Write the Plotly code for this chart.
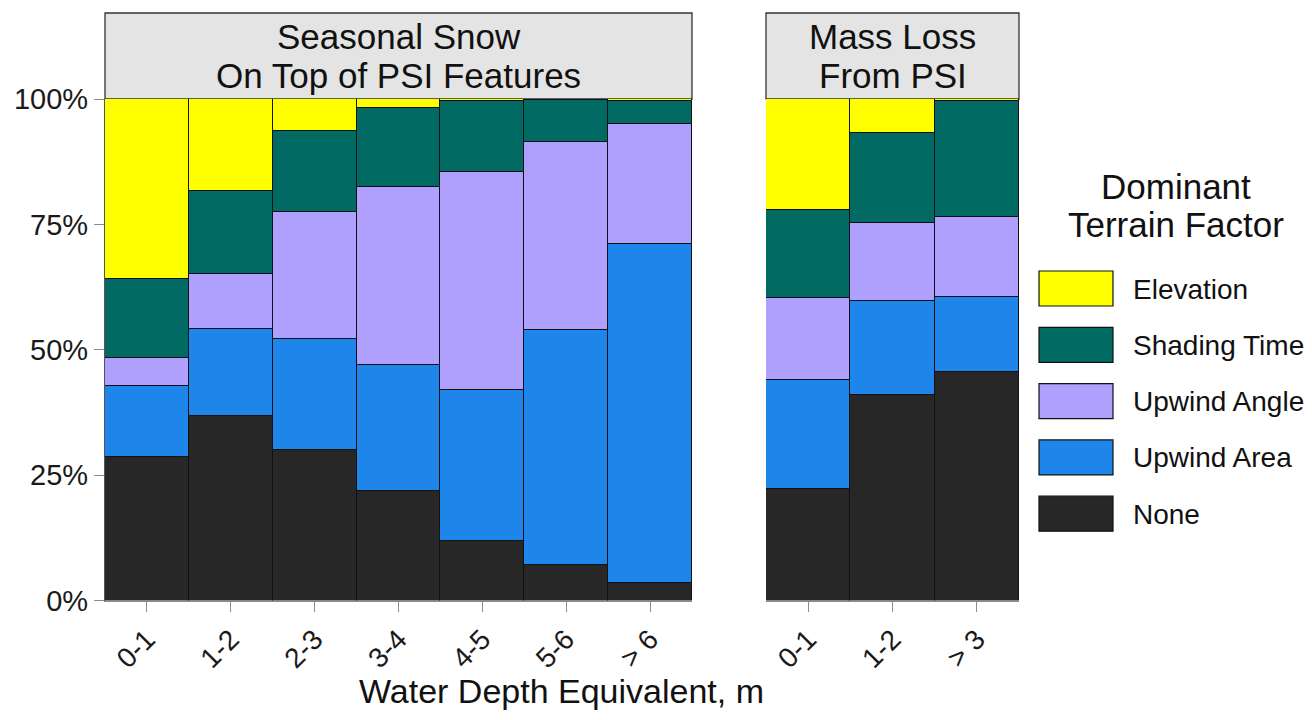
import plotly.graph_objects as go

# ---------------- data ----------------
left_cats = ["0-1", "1-2", "2-3", "3-4", "4-5", "5-6", "> 6"]
right_cats = ["0-1", "1-2", "> 3"]
factors = ["None", "Upwind Area", "Upwind Angle", "Shading Time", "Elevation"]
colors = {"None": "#272727", "Upwind Area": "#1E86EB", "Upwind Angle": "#AFA0FE",
          "Shading Time": "#006A63", "Elevation": "#FFFF00"}

left_none = [28.6, 36.7, 30.1, 21.8, 11.8, 7.1, 3.5]
left_area = [14.2, 17.5, 22.1, 25.2, 30.2, 46.8, 67.5]
left_angle = [5.6, 11.0, 25.2, 35.4, 43.4, 37.5, 24.1]
left_shade = [15.7, 16.4, 16.3, 15.9, 14.3, 8.4, 4.6]
left_elev = [35.9, 18.4, 6.3, 1.7, 0.3, 0.2, 0.3]

right_none = [22.3, 40.9, 45.6]
right_area = [21.7, 18.8, 14.9]
right_angle = [16.3, 15.6, 15.9]
right_shade = [17.6, 18.0, 23.3]
right_elev = [22.1, 6.7, 0.3]

y_ticks = [0, 25, 50, 75, 100]
y_tick_text = ["0%", "25%", "50%", "75%", "100%"]
legend_title = ["Dominant", "Terrain Factor"]
legend_order = ["Elevation", "Shading Time", "Upwind Angle", "Upwind Area", "None"]

left_vals = {"None": left_none, "Upwind Area": left_area, "Upwind Angle": left_angle,
             "Shading Time": left_shade, "Elevation": left_elev}
right_vals = {"None": right_none, "Upwind Area": right_area, "Upwind Angle": right_angle,
              "Shading Time": right_shade, "Elevation": right_elev}

# page has an 8px body margin; size the figure to fit inside the window
OFF = 8
W, H = 1312 - 2 * OFF, 720 - 2 * OFF
FONT = "Liberation Sans, Arial, sans-serif"


def px(x):
    return (x - OFF) / W


def py(y):
    return 1 - (y - OFF) / H


fig = go.Figure()
for f in factors:
    fig.add_trace(go.Bar(x=left_cats, y=left_vals[f], name=f, marker_color=colors[f],
                         marker_line=dict(color="#111111", width=1.2),
                         xaxis="x", yaxis="y", showlegend=False))
    fig.add_trace(go.Bar(x=right_cats, y=right_vals[f], name=f, marker_color=colors[f],
                         marker_line=dict(color="#111111", width=1.2),
                         xaxis="x2", yaxis="y2", showlegend=False))

L0, L1, R0, R1 = 105, 692, 766, 1019
Y0, Y1 = 600.5, 99
STRIP_TOP = 13

axis_common = dict(showgrid=False, zeroline=False, ticks="outside", ticklen=10,
                   tickcolor="#8c8c8c", tickwidth=1.3, automargin=False,
                   tickfont=dict(family=FONT, size=28, color="#1a1a1a"))

fig.update_layout(
    width=W, height=H,
    margin=dict(l=0, r=0, t=0, b=0),
    paper_bgcolor="white", plot_bgcolor="white",
    barmode="stack", bargap=0,
    xaxis=dict(domain=[px(L0), px(L1)], anchor="y", tickangle=-45,
               showline=True, linecolor="#8c8c8c", linewidth=1.3, **axis_common),
    xaxis2=dict(domain=[px(R0), px(R1)], anchor="y2", tickangle=-45,
                showline=True, linecolor="#8c8c8c", linewidth=1.3, **axis_common),
    yaxis=dict(domain=[py(Y0), py(Y1)], range=[0, 100], anchor="x",
               tickvals=y_ticks, ticktext=y_tick_text, showline=True,
               linecolor="#555555", linewidth=1.3,
               **{**axis_common, "tickfont": dict(family=FONT, size=29, color="#1a1a1a")}),
    yaxis2=dict(domain=[py(Y0), py(Y1)], range=[0, 100], anchor="x2",
                showticklabels=False, ticks="", showgrid=False, zeroline=False,
                showline=False),
)

shapes = []
annotations = []

# facet strips
for (a, b, l1, l2) in [(L0, L1, "Seasonal Snow", "On Top of PSI Features"),
                       (R0, R1, "Mass Loss", "From PSI")]:
    shapes.append(dict(type="rect", xref="paper", yref="paper",
                       x0=px(a), x1=px(b), y0=py(Y1), y1=py(STRIP_TOP),
                       fillcolor="#E4E4E4", line=dict(color="#333333", width=1.3),
                       layer="below"))
    annotations.append(dict(text=l1, x=px((a + b) / 2), y=py(37), xref="paper", yref="paper",
                            showarrow=False, xanchor="center", yanchor="middle",
                            font=dict(family=FONT, size=35, color="#111111")))
    annotations.append(dict(text=l2, x=px((a + b) / 2), y=py(76), xref="paper", yref="paper",
                            showarrow=False, xanchor="center", yanchor="middle",
                            font=dict(family=FONT, size=35, color="#111111")))

# x-axis title
annotations.append(dict(text="Water Depth Equivalent, m", x=px(561), y=py(691),
                        xref="paper", yref="paper", showarrow=False,
                        xanchor="center", yanchor="middle",
                        font=dict(family=FONT, size=34, color="#111111")))

# legend (manual)
annotations.append(dict(text=legend_title[0], x=px(1176), y=py(186), xref="paper", yref="paper",
                        showarrow=False, xanchor="center", yanchor="middle",
                        font=dict(family=FONT, size=35, color="#111111")))
annotations.append(dict(text=legend_title[1], x=px(1176), y=py(224), xref="paper", yref="paper",
                        showarrow=False, xanchor="center", yanchor="middle",
                        font=dict(family=FONT, size=35, color="#111111")))
for i, f in enumerate(legend_order):
    top = 271 + i * 56.3
    shapes.append(dict(type="rect", xref="paper", yref="paper",
                       x0=px(1039), x1=px(1113), y0=py(top + 35), y1=py(top),
                       fillcolor=colors[f], line=dict(color="#111111", width=1.2)))
    annotations.append(dict(text=f, x=px(1131), y=py(top + 18), xref="paper", yref="paper",
                            showarrow=False, xanchor="left", yanchor="middle",
                            font=dict(family=FONT, size=28, color="#111111")))

fig.update_layout(shapes=shapes, annotations=annotations)
fig.write_html("out.html")
